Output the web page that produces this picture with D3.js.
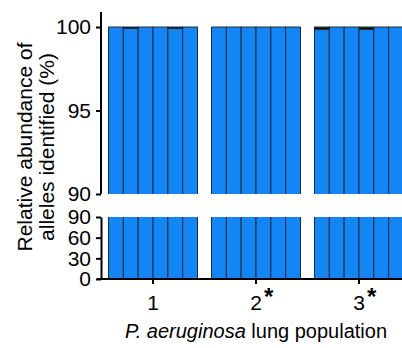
<!DOCTYPE html>
<html>
<head>
<meta charset="utf-8">
<script src="https://cdn.jsdelivr.net/npm/d3@7"></script>
<style>
  html, body { margin: 0; padding: 0; background: #fff; }
  svg { display: block; font-family: "Liberation Sans", Arial, sans-serif; }
</style>
</head>
<body>
<svg id="chart" width="402" height="348"></svg>
<script>
// ---- data ----
const groups = ["1", "2", "3"];
const groupStars = ["", "*", "*"];
const alleles = ["a1", "a2", "a3", "a4", "a5", "a6"];
// major allele share (%) per bar, per population
const majorAllele = [
  [100, 99.92, 100, 100, 99.92, 100],
  [100, 100, 100, 100, 100, 100],
  [99.85, 100, 100, 99.86, 100, 100]
];
// minor allele share (%) per bar
const minorAllele = [
  [0, 0.08, 0, 0, 0.08, 0],
  [0, 0, 0, 0, 0, 0],
  [0.15, 0, 0, 0.14, 0, 0]
];
const topTicks = [90, 95, 100];
const bottomTicks = [0, 30, 60, 90];
const yTitle = ["Relative abundance of", "alleles identified (%)"];

// ---- layout ----
const svg = d3.select("#chart");
const axisX = 101;
const x0 = d3.scaleBand().domain(groups).range([axisX, 411]).paddingInner(0.136).paddingOuter(0.073);
const x1 = d3.scaleBand().domain(alleles).range([0, x0.bandwidth()]);
const yTop = d3.scaleLinear().domain([90, 100.9]).range([194, 12]);
const yBot = d3.scaleLinear().domain([0, 90]).range([279, 217]);

const colors = { major: "#1485f5", minor: "#111111" };

const rows = [];
groups.forEach((g, gi) => {
  alleles.forEach((a, ai) => {
    rows.push({ g, a, major: majorAllele[gi][ai], minor: minorAllele[gi][ai] });
  });
});
const stack = d3.stack().keys(["major", "minor"]);
const series = stack(rows);

const defs = svg.append("defs");
defs.append("clipPath").attr("id", "clipTop").append("rect")
  .attr("x", axisX).attr("y", 0).attr("width", 402).attr("height", yTop(90));
defs.append("clipPath").attr("id", "clipBot").append("rect")
  .attr("x", axisX).attr("y", yBot(90)).attr("width", 402).attr("height", yBot(0) - yBot(90));

function drawBars(scale, clipId) {
  const gBars = svg.append("g").attr("clip-path", `url(#${clipId})`);
  series.forEach(s => {
    gBars.selectAll(null).data(s.filter(d => d[1] - d[0] > 0)).enter().append("rect")
      .attr("x", d => x0(d.data.g) + x1(d.data.a))
      .attr("width", x1.bandwidth())
      .attr("y", d => scale(d[1]))
      .attr("height", d => scale(d[0]) - scale(d[1]))
      .attr("fill", colors[s.key])
      .attr("stroke", "#1f2d3d")
      .attr("stroke-width", 1);
  });
}
drawBars(yTop, "clipTop");
drawBars(yBot, "clipBot");

// ---- axes ----
function styleAxis(g) {
  g.selectAll("path, line").attr("stroke", "#000").attr("stroke-width", 2);
  g.selectAll("text").attr("font-size", 21).attr("fill", "#000")
    .attr("font-family", "'Liberation Sans', Arial, sans-serif");
}
const axTop = svg.append("g").attr("transform", `translate(${axisX},0)`)
  .call(d3.axisLeft(yTop).tickValues(topTicks).tickSize(5).tickSizeOuter(0).tickPadding(5));
axTop.select(".domain").attr("d", `M0,${yTop(100.9)}V${yTop(90)}`);
styleAxis(axTop);

const axBot = svg.append("g").attr("transform", `translate(${axisX},0)`)
  .call(d3.axisLeft(yBot).tickValues(bottomTicks).tickSize(5).tickSizeOuter(0).tickPadding(5));
styleAxis(axBot);

const axX = svg.append("g").attr("transform", `translate(0,${yBot(0)})`)
  .call(d3.axisBottom(x0).tickSize(5).tickSizeOuter(0).tickPadding(11));
axX.select(".domain").attr("d", "M97,0H402");
styleAxis(axX);

// asterisks
svg.selectAll(".star").data(groups.filter((g, i) => groupStars[i])).enter().append("text")
  .attr("x", d => x0(d) + x0.bandwidth() / 2 + 8)
  .attr("y", 305)
  .attr("font-size", 24)
  .attr("font-weight", "bold")
  .text(d => groupStars[groups.indexOf(d)]);

// x title
const xt = svg.append("text").attr("x", 256).attr("y", 338)
  .attr("text-anchor", "middle").attr("font-size", 20);
xt.append("tspan").attr("font-style", "italic").text("P. aeruginosa");
xt.append("tspan").text(" lung population");

// y title
svg.selectAll(".ytitle").data(yTitle).enter().append("text")
  .attr("transform", (d, i) => `translate(${32 + i * 22},147) rotate(-90)`)
  .attr("text-anchor", "middle").attr("font-size", 21)
  .text(d => d);
</script>
</body>
</html>
